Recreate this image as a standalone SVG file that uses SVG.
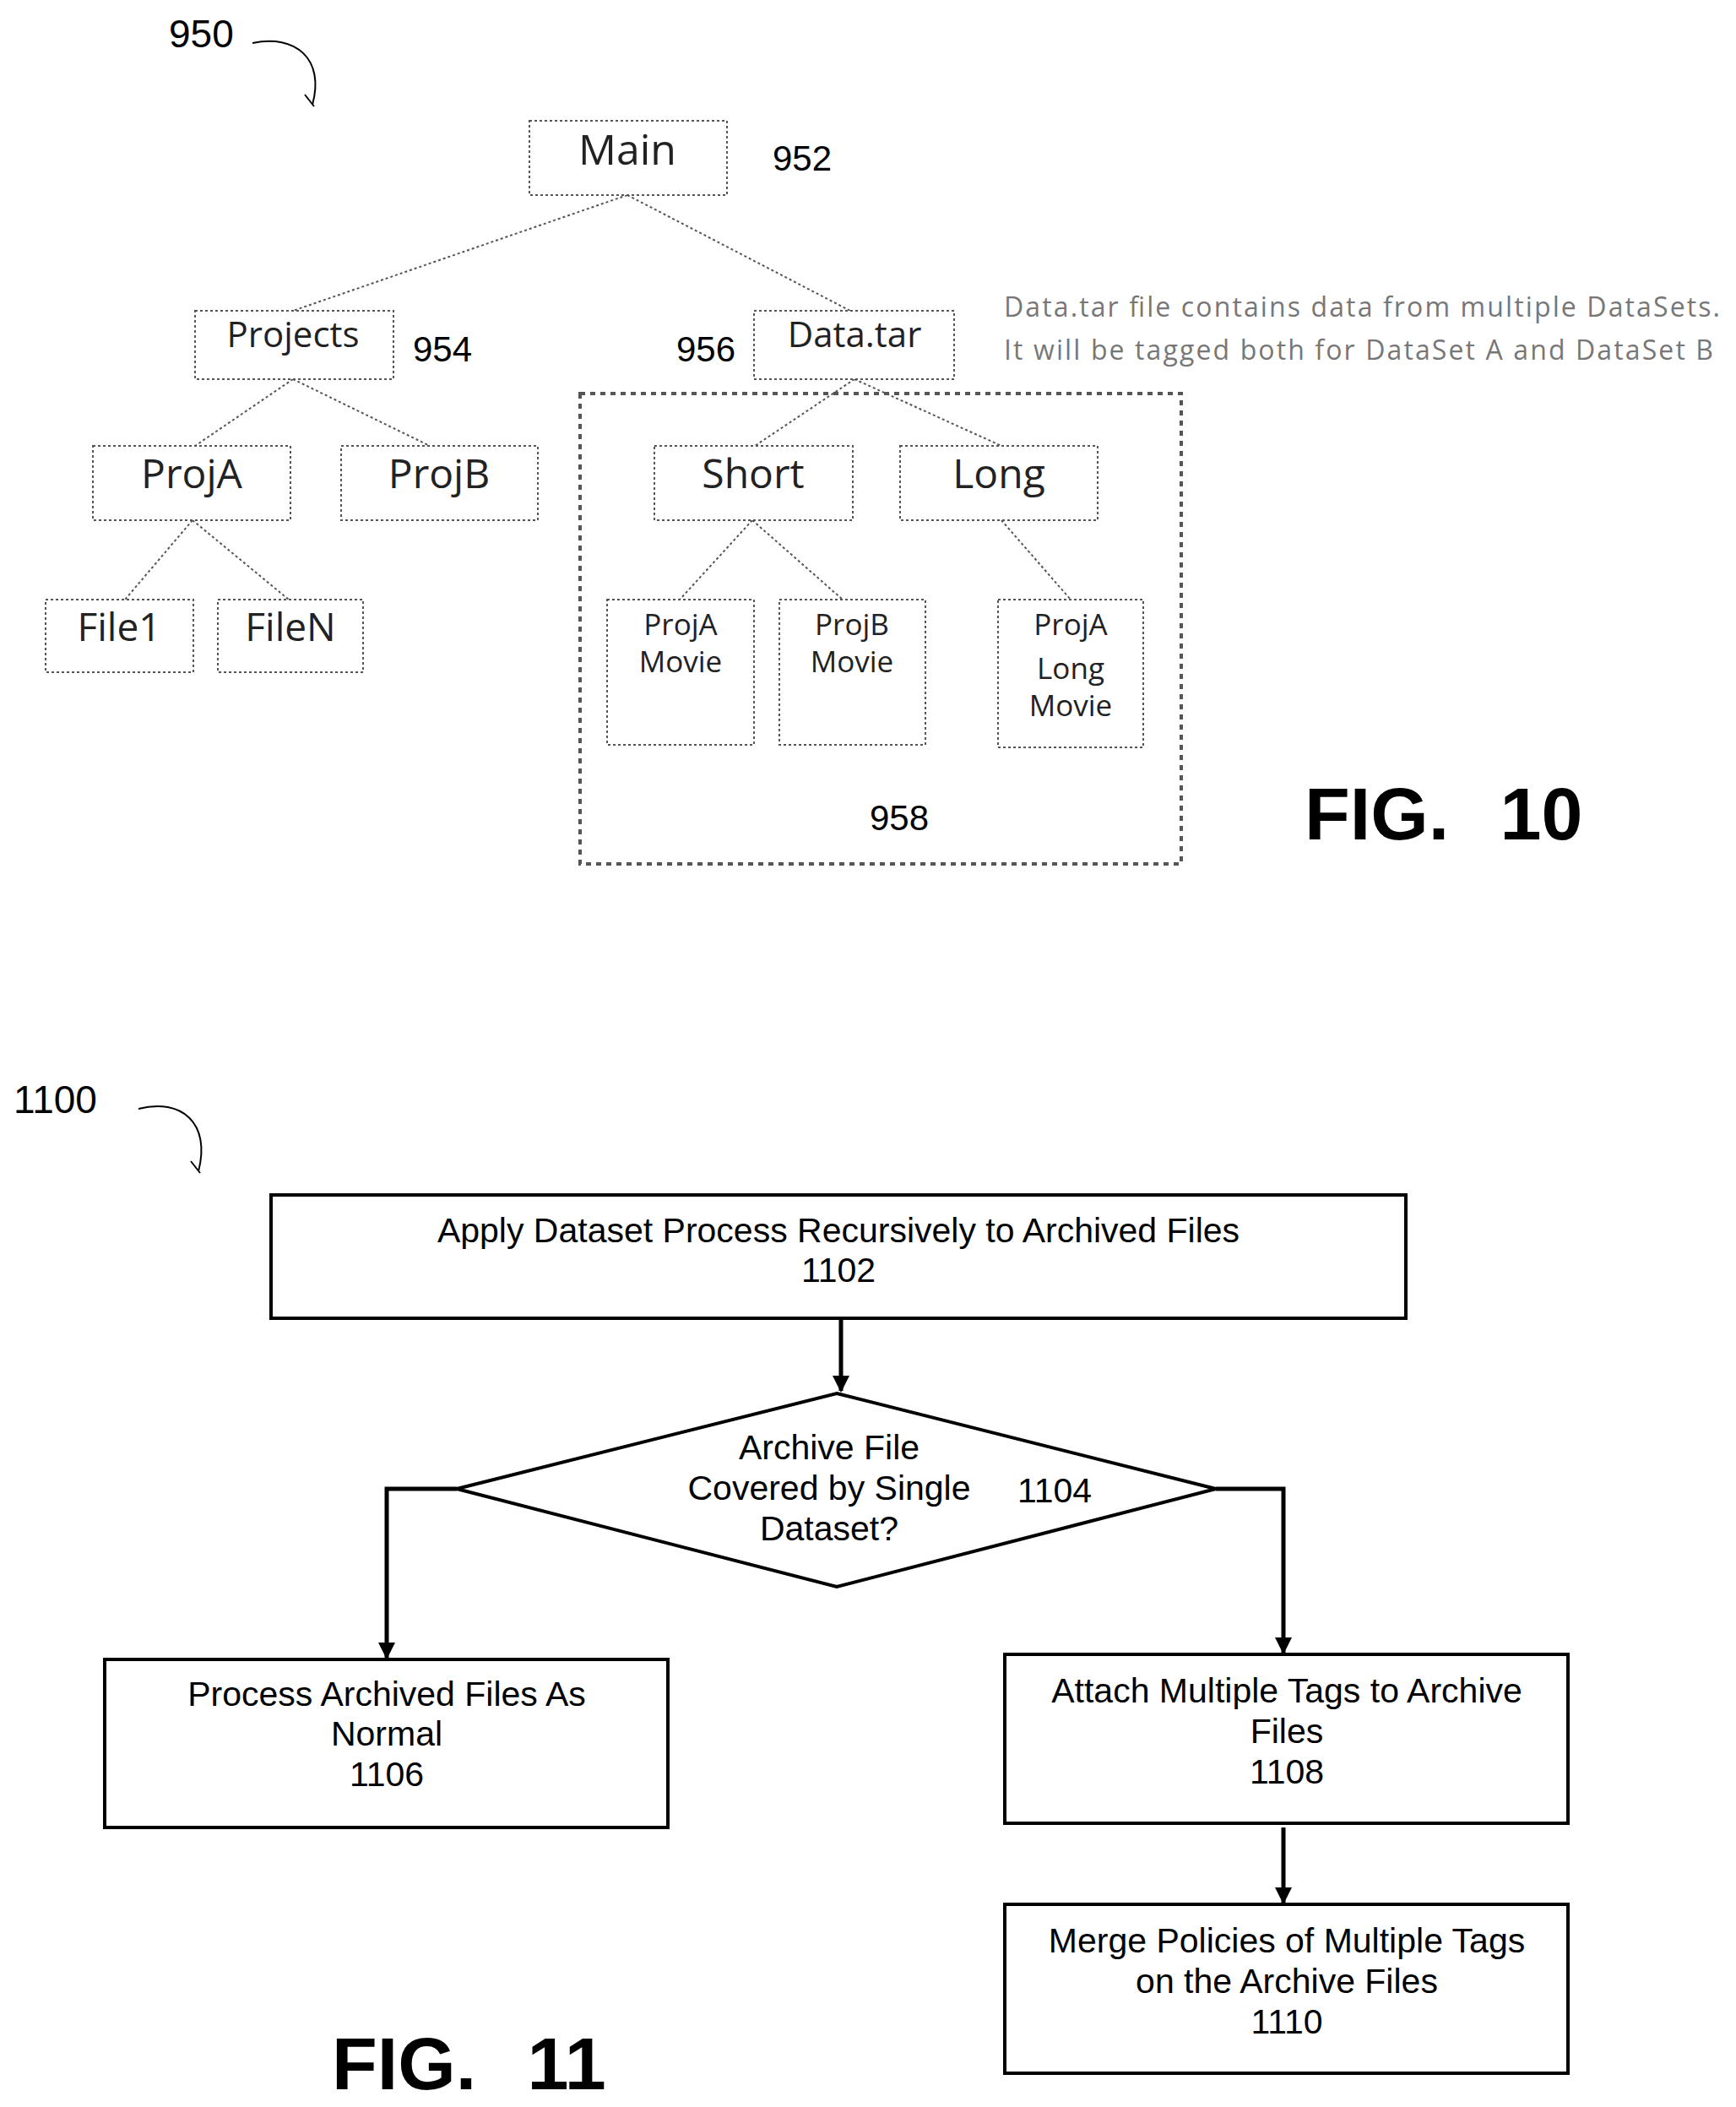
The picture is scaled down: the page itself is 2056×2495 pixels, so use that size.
<svg xmlns="http://www.w3.org/2000/svg" width="2056" height="2495" viewBox="0 0 2056 2495">
<defs>
<marker id="ah" viewBox="0 0 10 10" refX="9" refY="5" markerWidth="4" markerHeight="4" orient="auto"><path d="M0,0 L10,5 L0,10 z" fill="#000"/></marker>
<style>
.t{font-family:"Open Sans","Noto Sans",sans-serif;fill:#222;text-anchor:middle}
.n{font-family:"Liberation Sans",Arial,sans-serif;fill:#000}
.tb{fill:#fff;stroke:#555;stroke-width:2;stroke-dasharray:3 3}
.te{stroke:#555;stroke-width:2;stroke-dasharray:3 3;fill:none}
.fb{fill:#fff;stroke:#000;stroke-width:4}
.fl{font-family:"Liberation Sans",Arial,sans-serif;font-size:41px;fill:#000;text-anchor:middle}
.c{stroke:#000;stroke-width:5;fill:none}
.fig{font-family:"Liberation Sans",Arial,sans-serif;font-weight:bold;font-size:88px;fill:#000;word-spacing:36px}
</style>
</defs>
<rect width="2056" height="2495" fill="#fff"/>
<text class="n" x="200" y="56" font-size="46">950</text>
<path d="M299,51 C350,40 385,70 370,124" fill="none" stroke="#000" stroke-width="2"/>
<path d="M361,112 L372,126" fill="none" stroke="#000" stroke-width="2"/>
<g id="tree-edges">
<path class="te" d="M743,231 L347,368 M743,231 L1007,368 M347,449 L231,528 M347,449 L509,528 M1012,449 L894,528 M1012,449 L1186,528 M228,616 L148,710 M228,616 L342,710 M891,616 L805,710 M891,616 L998,710 M1186,616 L1268,710"/>
</g>
<g id="n958"><rect x="687" y="466" width="712" height="557" fill="none" stroke="#555" stroke-width="4" stroke-dasharray="6 6"/><text class="n" x="1065" y="983" font-size="42" text-anchor="middle">958</text></g>
<g id="n952"><rect class="tb" x="627" y="143" width="234" height="88"/><text class="t" x="743" y="195" font-size="50">Main</text><text class="n" x="915" y="202" font-size="42">952</text></g>
<g id="n954"><rect class="tb" x="231" y="368" width="235" height="81"/><text class="t" x="347" y="411" font-size="42">Projects</text><text class="n" x="489" y="428" font-size="42">954</text></g>
<g id="n956"><rect class="tb" x="893" y="368" width="237" height="81"/><text class="t" x="1012" y="411" font-size="42">Data.tar</text><text class="n" x="801" y="428" font-size="42">956</text></g>
<g id="projA"><rect class="tb" x="110" y="528" width="234" height="88"/><text class="t" x="227" y="578" font-size="48">ProjA</text></g>
<g id="projB"><rect class="tb" x="404" y="528" width="233" height="88"/><text class="t" x="520" y="578" font-size="48">ProjB</text></g>
<g id="short"><rect class="tb" x="775" y="528" width="235" height="88"/><text class="t" x="892" y="578" font-size="48">Short</text></g>
<g id="long"><rect class="tb" x="1066" y="528" width="234" height="88"/><text class="t" x="1183" y="578" font-size="48">Long</text></g>
<g id="file1"><rect class="tb" x="54" y="710" width="175" height="86"/><text class="t" x="141" y="759" font-size="46">File1</text></g>
<g id="fileN"><rect class="tb" x="258" y="710" width="172" height="86"/><text class="t" x="344" y="759" font-size="46">FileN</text></g>
<g id="projAMovie"><rect class="tb" x="719" y="710" width="174" height="172"/><text class="t" x="806" y="752" font-size="35">ProjA</text><text class="t" x="806" y="796" font-size="35">Movie</text></g>
<g id="projBMovie"><rect class="tb" x="923" y="710" width="173" height="172"/><text class="t" x="1009" y="752" font-size="35">ProjB</text><text class="t" x="1009" y="796" font-size="35">Movie</text></g>
<g id="projALong"><rect class="tb" x="1182" y="710" width="172" height="175"/><text class="t" x="1268" y="752" font-size="35">ProjA</text><text class="t" x="1268" y="804" font-size="35">Long</text><text class="t" x="1268" y="848" font-size="35">Movie</text></g>
<g id="note"><text x="1189" y="375" font-family="Open Sans,sans-serif" font-size="32" fill="#777" textLength="848">Data.tar file contains data from multiple DataSets.</text><text x="1189" y="426" font-family="Open Sans,sans-serif" font-size="32" fill="#777" textLength="840">It will be tagged both for DataSet A and DataSet B</text></g>
<text class="fig" x="1545" y="994">FIG. 10</text>

<text class="n" x="16" y="1318" font-size="46">1100</text>
<path d="M164,1313 C215,1300 250,1330 235,1387" fill="none" stroke="#000" stroke-width="2"/>
<path d="M226,1375 L237,1389" fill="none" stroke="#000" stroke-width="2"/>
<g id="connectors">
<path class="c" d="M996,1561 L996,1647" marker-end="url(#ah)"/>
<path class="c" d="M541,1763 L458,1763 L458,1963" marker-end="url(#ah)"/>
<path class="c" d="M1440,1763 L1520,1763 L1520,1957" marker-end="url(#ah)"/>
<path class="c" d="M1520,2164 L1520,2253" marker-end="url(#ah)"/>
</g>
<g id="n1102"><rect class="fb" x="321" y="1415" width="1344" height="146"/><text class="fl" x="993" y="1471">Apply Dataset Process Recursively to Archived Files</text><text class="fl" x="993" y="1518">1102</text></g>
<g id="n1104"><polygon class="fb" points="991,1650 1440,1763 991,1879 541,1763"/><text class="fl" x="982" y="1728">Archive File</text><text class="fl" x="982" y="1776">Covered by Single</text><text class="fl" x="982" y="1824">Dataset?</text><text class="fl" x="1249" y="1779">1104</text></g>
<g id="n1106"><rect class="fb" x="124" y="1965" width="667" height="199"/><text class="fl" x="458" y="2020">Process Archived Files As</text><text class="fl" x="458" y="2067">Normal</text><text class="fl" x="458" y="2115">1106</text></g>
<g id="n1108"><rect class="fb" x="1190" y="1959" width="667" height="200"/><text class="fl" x="1524" y="2016">Attach Multiple Tags to Archive</text><text class="fl" x="1524" y="2064">Files</text><text class="fl" x="1524" y="2112">1108</text></g>
<g id="n1110"><rect class="fb" x="1190" y="2255" width="667" height="200"/><text class="fl" x="1524" y="2312">Merge Policies of Multiple Tags</text><text class="fl" x="1524" y="2360">on the Archive Files</text><text class="fl" x="1524" y="2408">1110</text></g>
<text class="fig" x="393" y="2474">FIG. 11</text>
</svg>
